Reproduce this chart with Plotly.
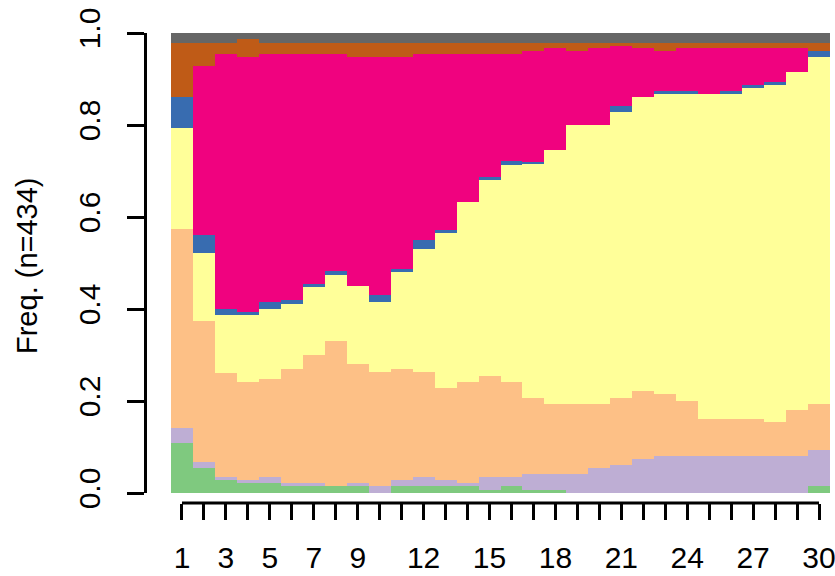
import plotly.graph_objects as go

# Time points of the state distribution
steps = list(range(1, 31))
tick_labels = {1: "1", 3: "3", 5: "5", 7: "7", 9: "9", 12: "12", 15: "15",
               18: "18", 21: "21", 24: "24", 27: "27", 30: "30"}

# Share of sequences in each state at every time point (bottom to top)
state_1 = [.108, .055, .029, .022, .022, .016, .016, .016, .016, 0, .015, .015, .015, .015, .007,
           .015, .007, .007, 0, 0, 0, 0, 0, 0, 0, 0, 0, 0, 0, .015]
state_2 = [.034, .013, .006, .007, .013, .006, .006, 0, .006, .015, .013, .020, .013, .007, .028,
           .020, .034, .034, .041, .054, .061, .074, .080, .080, .080, .080, .080, .080, .080, .078]
state_3 = [.433, .306, .226, .212, .213, .248, .278, .314, .258, .248, .242, .227, .200, .219, .220,
           .206, .166, .152, .152, .139, .146, .148, .135, .120, .081, .081, .081, .074, .100, .100]
state_4 = [.218, .148, .126, .146, .152, .140, .148, .145, .170, .152, .210, .268, .337, .391, .425,
           .471, .508, .552, .607, .607, .621, .639, .652, .667, .706, .706, .719, .733, .735, .755]
state_5 = [.067, .039, .012, .007, .015, .010, .007, .007, 0, .015, .007, .020, .007, 0, .008,
           .010, .005, 0, 0, 0, .013, 0, .007, .007, 0, .007, .007, .007, 0, .013]
state_6 = [0, .367, .555, .554, .539, .534, .499, .472, .498, .518, .461, .404, .382, .322, .266,
           .232, .241, .222, .161, .167, .131, .106, .087, .093, .100, .093, .080, .073, .052, 0]
state_7 = [.118, .050, .024, .039, .024, .024, .024, .024, .030, .030, .030, .024, .024, .024, .024,
           .024, .017, .011, .017, .011, .006, .011, .017, .011, .011, .011, .011, .011, .011, .017]
state_8 = [.022, .022, .022, .013, .022, .022, .022, .022, .022, .022, .022, .022, .022, .022, .022,
           .022, .022, .022, .022, .022, .022, .022, .022, .022, .022, .022, .022, .022, .022, .022]

series = [state_1, state_2, state_3, state_4, state_5, state_6, state_7, state_8]
colors = ["#7FC97F", "#BEAED4", "#FDC086", "#FFFF99", "#386CB0", "#F0027F", "#BF5B17", "#666666"]

FONT = "Liberation Sans, Arial, Helvetica, sans-serif"

fig = go.Figure()
for i, (vals, col) in enumerate(zip(series, colors), start=1):
    fig.add_bar(x=steps, y=vals, name=f"state {i}", marker_color=col,
                marker_line_width=0)

W, H = 835, 576
ml, mr, mt, mb = 145, 5, 33, 73
pw, ph = W - ml - mr, H - mt - mb

fig.update_layout(
    width=W, height=H, autosize=False,
    margin=dict(l=ml, r=mr, t=mt, b=mb, pad=0),
    barmode="stack", barnorm="fraction", bargap=0,
    showlegend=False,
    plot_bgcolor="white", paper_bgcolor="white",
    font=dict(family=FONT, color="black"),
    xaxis=dict(
        domain=[26 / pw, 1], range=[0.5, 30.5], anchor="free", position=0,
        automargin=False,
        tickmode="array", tickvals=steps,
        ticktext=[tick_labels.get(s, "") for s in steps],
        ticks="outside", ticklen=16, tickwidth=3, tickcolor="black",
        ticklabelstandoff=12, ticklabeloverflow="allow",
        tickfont=dict(size=30, family=FONT, color="black"),
        showline=False, showgrid=False, zeroline=False,
    ),
    yaxis=dict(
        domain=[10 / ph, 1], range=[0, 1], anchor="free", position=0,
        automargin=False,
        tickmode="array", tickvals=[0, 0.2, 0.4, 0.6, 0.8, 1.0],
        ticktext=["0.0", "0.2", "0.4", "0.6", "0.8", "1.0"],
        tickangle=-90,
        ticks="outside", ticklen=17, tickwidth=3, tickcolor="black",
        ticklabelstandoff=15,
        tickfont=dict(size=30, family=FONT, color="black"),
        showline=True, linewidth=3, linecolor="black",
        showgrid=False, zeroline=False,
    ),
)

# Horizontal axis line running from the first to the last time point
n = len(steps)
fig.add_shape(type="line", xref="x domain", yref="paper",
              x0=(steps[0] - 0.5) / n, x1=(steps[-1] - 0.5) / n, y0=0, y1=0,
              line=dict(color="black", width=3))

fig.add_annotation(text="Freq. (n=434)", textangle=-90, showarrow=False,
                   xref="paper", yref="paper", x=(27 - ml) / pw, y=(H - mb - 266) / ph,
                   xanchor="center", yanchor="middle",
                   font=dict(size=29, family=FONT, color="black"))

fig.write_html("out.html")
